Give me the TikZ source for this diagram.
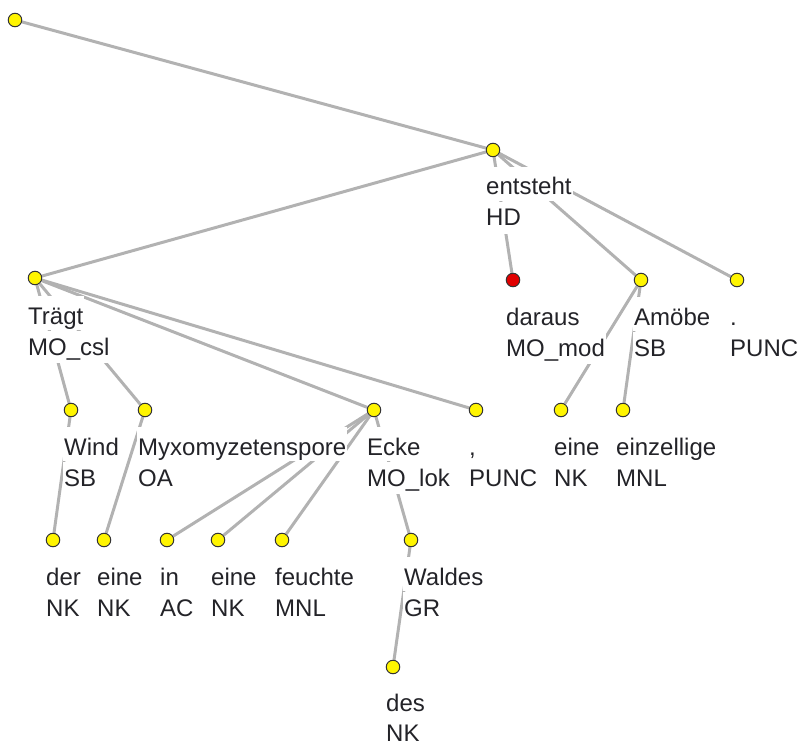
\documentclass[tikz,border=0pt]{standalone}
\usepackage{fontspec}
\setmainfont{Liberation Sans}
\usetikzlibrary{backgrounds}
\definecolor{edgegray}{RGB}{178,178,178}
\definecolor{dotyellow}{RGB}{255,245,0}
\definecolor{dotred}{RGB}{225,0,0}
\definecolor{txt}{RGB}{35,35,40}
\begin{document}
\begin{tikzpicture}[x=1pt,y=-1pt,
    tok/.style={circle,draw=black!80,line width=1pt,fill=dotyellow,minimum size=13.5pt,inner sep=0pt},
    word/.style={anchor=base west,fill=white,text=txt,font=\fontsize{24}{28}\selectfont,
      inner xsep=1pt,inner ysep=0pt,text height=28pt,text depth=6pt},
    tag/.style={word,text height=24pt,text depth=8pt},
    edge/.style={draw=edgegray,line width=3pt}]
  \useasboundingbox (0,0) rectangle (798,746);
  % tokens: dot, word, tag
  \node[tok] (root) at (15,20) {};
  \node[tok] (entsteht) at (493,150) {};
  \node[word] (entsteht-w) at (485,195) {entsteht};
  \node[tag] (entsteht-t) at (485,226) {HD};
  \node[tok] (traegt) at (35,278) {};
  \node[word] (traegt-w) at (27,324) {Trägt};
  \node[tag] (traegt-t) at (27,355) {MO\_csl};
  \node[tok,fill=dotred] (daraus) at (513,280) {};
  \node[word] (daraus-w) at (505,325) {daraus};
  \node[tag] (daraus-t) at (505,356) {MO\_mod};
  \node[tok] (amoebe) at (641,280) {};
  \node[word] (amoebe-w) at (633,325) {Amöbe};
  \node[tag] (amoebe-t) at (633,356) {SB};
  \node[tok] (punkt) at (737,280) {};
  \node[word] (punkt-w) at (729,325) {.};
  \node[tag] (punkt-t) at (729,356) {PUNC};
  \node[tok] (wind) at (71,410) {};
  \node[word] (wind-w) at (63,455) {Wind};
  \node[tag] (wind-t) at (63,486) {SB};
  \node[tok] (myxo) at (145,410) {};
  \node[word] (myxo-w) at (137,455) {Myxomyzetenspore};
  \node[tag] (myxo-t) at (137,486) {OA};
  \node[tok] (ecke) at (374,410) {};
  \node[word] (ecke-w) at (366,455) {Ecke};
  \node[tag] (ecke-t) at (366,486) {MO\_lok};
  \node[tok] (komma) at (476,410) {};
  \node[word] (komma-w) at (468,455) {,};
  \node[tag] (komma-t) at (468,486) {PUNC};
  \node[tok] (eineA) at (561,410) {};
  \node[word] (eineA-w) at (553,455) {eine};
  \node[tag] (eineA-t) at (553,486) {NK};
  \node[tok] (einzellige) at (623,410) {};
  \node[word] (einzellige-w) at (615,455) {einzellige};
  \node[tag] (einzellige-t) at (615,486) {MNL};
  \node[tok] (der) at (53,540) {};
  \node[word] (der-w) at (45,585) {der};
  \node[tag] (der-t) at (45,616) {NK};
  \node[tok] (eineB) at (104,540) {};
  \node[word] (eineB-w) at (96,585) {eine};
  \node[tag] (eineB-t) at (96,616) {NK};
  \node[tok] (in) at (167,540) {};
  \node[word] (in-w) at (159,585) {in};
  \node[tag] (in-t) at (159,616) {AC};
  \node[tok] (eineC) at (218,540) {};
  \node[word] (eineC-w) at (210,585) {eine};
  \node[tag] (eineC-t) at (210,616) {NK};
  \node[tok] (feuchte) at (282,540) {};
  \node[word] (feuchte-w) at (274,585) {feuchte};
  \node[tag] (feuchte-t) at (274,616) {MNL};
  \node[tok] (waldes) at (411,540) {};
  \node[word] (waldes-w) at (403,585) {Waldes};
  \node[tag] (waldes-t) at (403,616) {GR};
  \node[tok] (des) at (393,667) {};
  \node[word] (des-w) at (385,711) {des};
  \node[tag,text depth=3pt] (des-t) at (385,741) {NK};
  % edges
  \begin{scope}[on background layer]
    \draw[edge] (root) -- (entsteht);
    \draw[edge] (entsteht) -- (traegt);
    \draw[edge] (entsteht) -- (daraus);
    \draw[edge] (entsteht) -- (amoebe);
    \draw[edge] (entsteht) -- (punkt);
    \draw[edge] (traegt) -- (wind);
    \draw[edge] (traegt) -- (myxo);
    \draw[edge] (traegt) -- (ecke);
    \draw[edge] (traegt) -- (komma);
    \draw[edge] (wind) -- (der);
    \draw[edge] (myxo) -- (eineB);
    \draw[edge] (ecke) -- (in);
    \draw[edge] (ecke) -- (eineC);
    \draw[edge] (ecke) -- (feuchte);
    \draw[edge] (ecke) -- (waldes);
    \draw[edge] (waldes) -- (des);
    \draw[edge] (amoebe) -- (eineA);
    \draw[edge] (amoebe) -- (einzellige);
  \end{scope}
\end{tikzpicture}
\end{document}
